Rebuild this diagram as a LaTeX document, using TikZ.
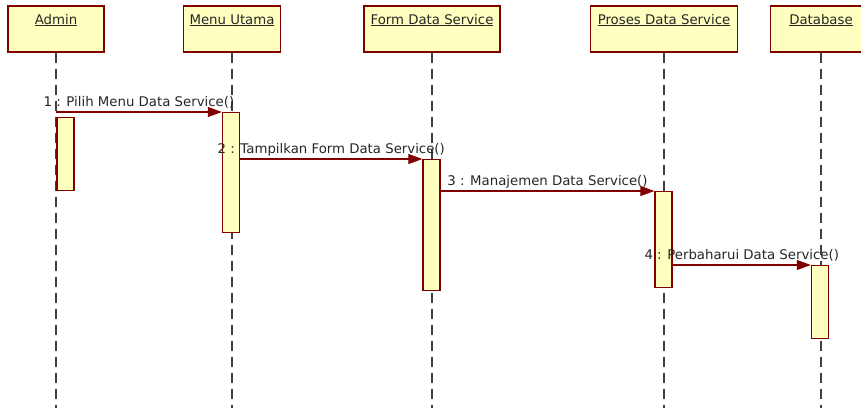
\documentclass[tikz,border=0pt]{standalone}
\usepackage{fontspec}
\setmainfont{DejaVu Sans}
\usetikzlibrary{arrows.meta}
\definecolor{darkred}{rgb}{0.5,0,0}
\definecolor{lightyellow}{rgb}{1,1,0.75}
\newcommand{\callfont}{\fontsize{13.3}{15}\selectfont}

\begin{document}
\begin{tikzpicture}[x=1pt,y=-1pt]
\tikzstyle{object}=[rectangle, draw=darkred, line width=1.3pt, fill=lightyellow, minimum height=46pt, inner sep=0pt, text height=18pt, text depth=28pt, text=black!85, font=\callfont]
\tikzstyle{act}=[rectangle, draw=darkred, line width=1.3pt, fill=lightyellow, minimum width=17pt, inner sep=0pt, anchor=north]
\tikzstyle{life}=[dash pattern=on 10pt off 6pt, line width=1.2pt, black!75]
\tikzstyle{msg}=[-{Triangle[length=14pt,width=10pt]}, darkred, line width=1.1pt]
\tikzstyle{call}=[anchor=base, yshift=6pt, inner sep=0pt, text=black!85, font=\callfont]

\useasboundingbox (0,0) rectangle (861,408);

% objects
\node[object, minimum width=96pt] (admin) at (56,29) {\underline{Admin}};
\node[object, minimum width=97pt] (menu) at (232,29) {\underline{Menu Utama}};
\node[object, minimum width=136pt] (form) at (432,29) {\underline{Form Data Service}};
\node[object, minimum width=147pt] (proses) at (664,29) {\underline{Proses Data Service}};
\node[object, minimum width=101pt] (db) at (821,29) {\underline{Database}};

% lifelines
\coordinate (adminend) at (56,408);
\coordinate (menuend) at (232,408);
\coordinate (formend) at (432,408);
\coordinate (prosesend) at (664,408);
\coordinate (dbend) at (821,408);
\draw[life] (admin.south) -- (adminend);
\draw[life] (menu.south) -- (menuend);
\draw[life] (form.south) -- (formend);
\draw[life] (proses.south) -- (prosesend);
\draw[life] (db.south) -- (dbend);

% activations
\node[act, minimum height=73pt] (adminact) at (65.5,117) {};
\node[act, minimum height=120pt] (menuact) at (231,112) {};
\node[act, minimum height=131pt] (formact) at (431.5,159) {};
\node[act, minimum height=96pt] (prosesact) at (663.5,191) {};
\node[act, minimum height=73pt] (dbact) at (820,265) {};

% messages
\draw[msg] (admin.south |- menuact.north) -- (menuact.north west)
	node[call, midway] {1 : Pilih Menu Data Service()};
\draw[msg] (menuact.east |- formact.north) -- (formact.north west)
	node[call, midway] {2 : Tampilkan Form Data Service()};
\draw[msg] (formact.east |- prosesact.north) -- (prosesact.north west)
	node[call, midway] {3 : Manajemen Data Service()};
\draw[msg] (prosesact.east |- dbact.north) -- (dbact.north west)
	node[call, midway] {4 : Perbaharui Data Service()};
\end{tikzpicture}
\end{document}
